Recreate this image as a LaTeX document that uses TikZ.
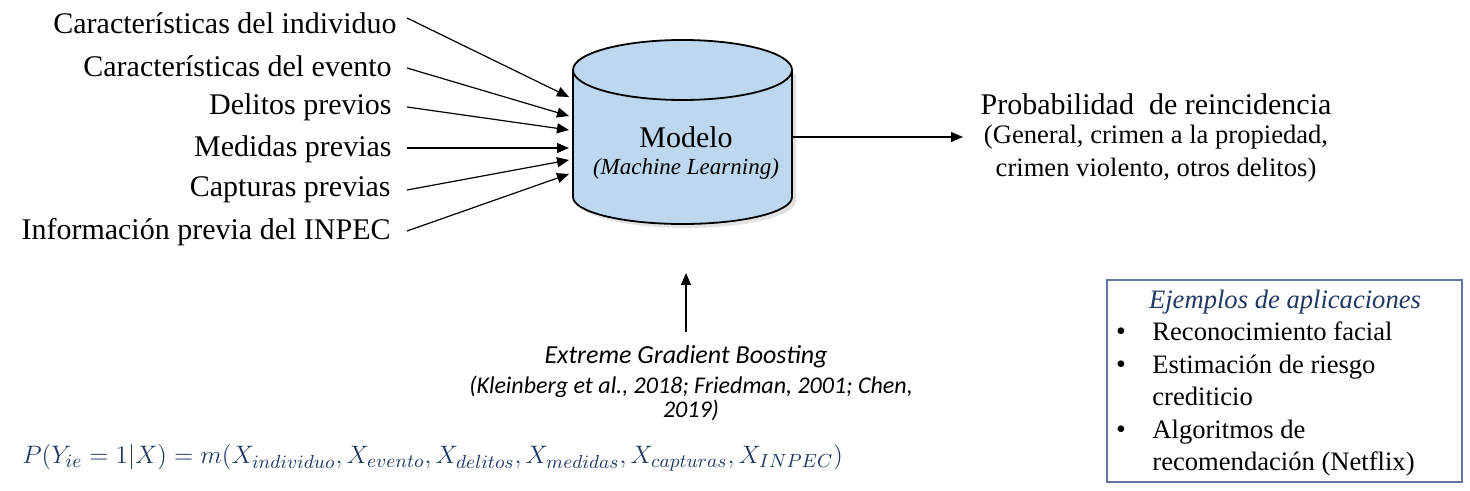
\documentclass[tikz,border=0pt]{standalone}
\usepackage{graphicx}
\usepackage{fontspec}
\setmainfont{Liberation Serif}
\newfontfamily\calib{Carlito}
\usetikzlibrary{arrows.meta}
\definecolor{cylfill}{RGB}{189,215,238}
\definecolor{navy}{RGB}{31,56,100}
\definecolor{boxedge}{RGB}{96,118,160}
\tikzset{
  feat/.style={anchor=east, inner sep=0pt, font=\fontsize{15}{18}\selectfont},
  arr/.style={-{Triangle[length=6pt,width=5pt]}, line width=0.6pt},
  rtxt/.style={inner sep=0pt, font=\fontsize{13.3}{16}\selectfont},
  btxt/.style={anchor=base west, inner sep=0pt, font=\fontsize{13.3}{16}\selectfont},
  bul/.style={anchor=base, inner sep=0pt, font=\fontsize{14}{16}\selectfont},
}
\begin{document}
\begin{tikzpicture}[x=0.5pt,y=-0.5pt]
\useasboundingbox (0,0) rectangle (1470,491);
% feature labels
\node[feat] (f1) at (397,23) {Características del individuo};
\node[feat] (f2) at (392,66) {Características del evento};
\node[feat] (f3) at (392,107) {Delitos previos};
\node[feat] (f4) at (392,149) {Medidas previas};
\node[feat] (f5) at (391,190) {Capturas previas};
\node[feat] (f6) at (391,232) {Información previa del INPEC};
% cylinder
\fill[gray!50, opacity=0.45] (577,74) -- (577,201) arc[start angle=180,end angle=0,x radius=109.5,y radius=27] -- (796,74) -- cycle;
\filldraw[fill=cylfill, draw=black, line width=0.9pt]
  (573,70) -- (573,197) arc[start angle=180,end angle=0,x radius=109.5,y radius=27]
  -- (792,70) arc[start angle=0,end angle=-180,x radius=109.5,y radius=30] -- cycle;
\draw[line width=0.9pt] (573,70) arc[start angle=180,end angle=0,x radius=109.5,y radius=30];
\node[inner sep=0pt, font=\fontsize{15}{18}\selectfont] (mod) at (686,137) {Modelo};
\node[inner sep=0pt, font=\fontsize{11.5}{14}\itshape] (ml) at (686,169) {(Machine Learning)};
\coordinate (cylR) at (792,137);
% input arrows
\coordinate (s1) at (407,18);
\coordinate (s2) at (407,68);
\coordinate (s3) at (407,107);
\coordinate (s4) at (407,148);
\coordinate (s5) at (407,190);
\coordinate (s6) at (407,231);
\coordinate (e1) at (569,97);
\coordinate (e2) at (569,116);
\coordinate (e3) at (569,130);
\coordinate (e4) at (569,148);
\coordinate (e5) at (569,160);
\coordinate (e6) at (569,174);
\foreach \i in {1,...,6} {\draw[arr] (s\i) -- (e\i);}
% output
\node[inner sep=0pt, font=\fontsize{15}{18}\selectfont] (prob) at (1156,104) {Probabilidad\ \ de reincidencia};
\node[rtxt] (gen) at (1156,137) {(General, crimen a la propiedad,};
\node[rtxt] (viol) at (1156,170) {crimen violento, otros delitos)};
\coordinate (outend) at (963,137);
\draw[arr] (cylR) -- (outend);
% xgboost
\node[inner sep=0pt, font=\calib\fontsize{13}{16}\itshape\selectfont] (xgb) at (686,357) {Extreme Gradient Boosting};
\node[inner sep=0pt, font=\calib\fontsize{12}{14}\itshape\selectfont] (cit1) at (691,387) {(Kleinberg et al., 2018; Friedman, 2001; Chen,};
\node[inner sep=0pt, font=\calib\fontsize{12}{14}\itshape\selectfont] (cit2) at (691,410) {2019)};
\coordinate (upstart) at (686,332);
\coordinate (upend) at (686,273);
\draw[arr] (upstart) -- (upend);
% formula
\node[anchor=west, inner sep=0pt, text=navy, font=\fontsize{12.8}{16}\selectfont] (form) at (22,458)
  {\scalebox{1.051}{$P(Y_{ie}=1|X)=m(X_{individuo},X_{evento},X_{delitos},X_{medidas},X_{capturas},X_{INPEC})$}};
% examples box
\draw[boxedge, line width=0.8pt] (1107,280) rectangle (1462,482);
\node[inner sep=0pt, text=navy, font=\fontsize{13.3}{16}\itshape\selectfont] (btitle) at (1285,302) {Ejemplos de aplicaciones};
\node[bul] (b1) at (1121,341) {•};
\node[btxt] (t1) at (1152,341) {Reconocimiento facial};
\node[bul] (b2) at (1121,373) {•};
\node[btxt] (t2) at (1152,373) {Estimación de riesgo};
\node[btxt] (t2b) at (1152,405) {crediticio};
\node[bul] (b3) at (1121,438) {•};
\node[btxt] (t3) at (1152,438) {Algoritmos de};
\node[btxt] (t3b) at (1152,470) {recomendación (Netflix)};
\end{tikzpicture}
\end{document}
